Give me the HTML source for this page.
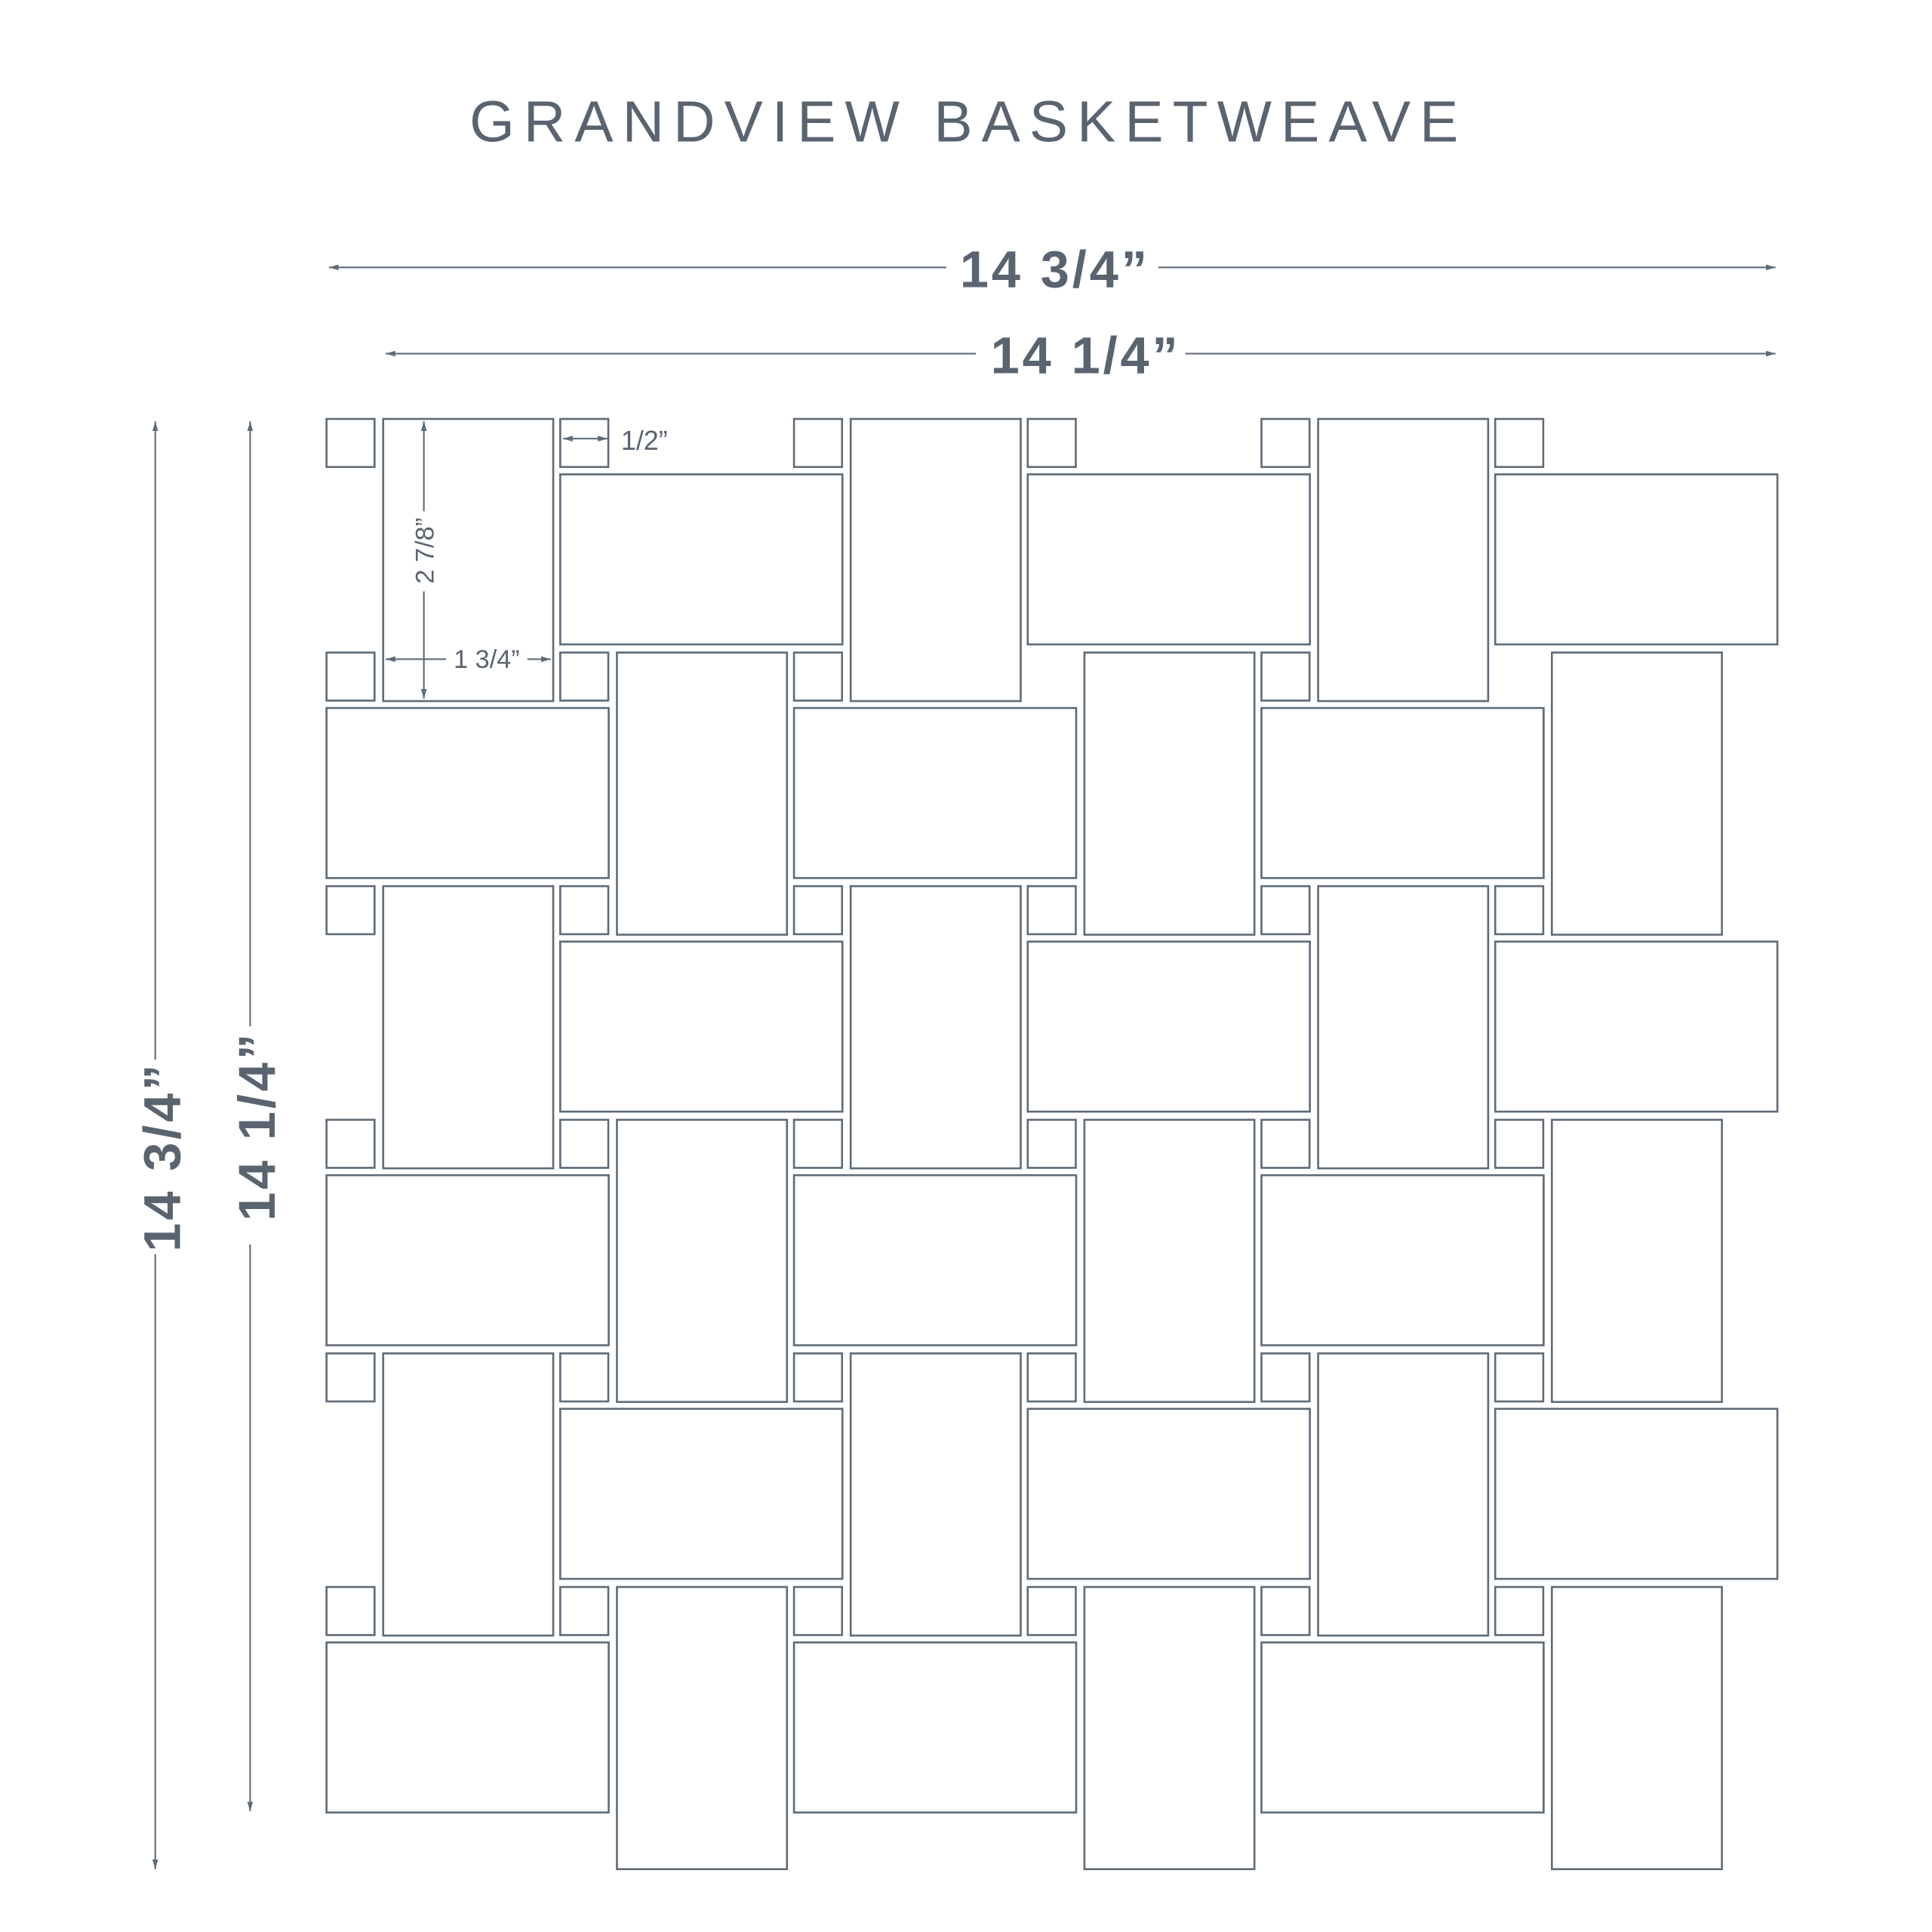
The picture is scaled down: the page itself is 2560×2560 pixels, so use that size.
<!DOCTYPE html>
<html><head><style>html,body{margin:0;padding:0;background:#fff}svg{display:block}</style></head>
<body>
<svg width="2560" height="2560" viewBox="0 0 1568 1568" xmlns="http://www.w3.org/2000/svg">
<defs>
<marker id="a" viewBox="0 0 10 10" refX="10" refY="5" markerWidth="6" markerHeight="6" orient="auto-start-reverse"><path d="M0,2 L10,5 L0,8 z" fill="#5f6b77"/></marker>
</defs>
<g font-family="Liberation Sans, sans-serif" fill="#5a6470">
<text x="786" y="115" font-size="47" text-anchor="middle" letter-spacing="7.4">GRANDVIEW BASKETWEAVE</text>
<text x="855" y="233" font-size="42" font-weight="bold" text-anchor="middle" textLength="152">14 3/4”</text>
<text x="880" y="303" font-size="42" font-weight="bold" text-anchor="middle" textLength="152">14 1/4”</text>
<text transform="translate(146,940) rotate(-90)" font-size="42" font-weight="bold" text-anchor="middle" textLength="152">14 3/4”</text>
<text transform="translate(223,915) rotate(-90)" font-size="42" font-weight="bold" text-anchor="middle" textLength="152">14 1/4”</text>
<text transform="translate(352,447) rotate(-90)" font-size="21" text-anchor="middle">2 7/8”</text>
<text x="395" y="542" font-size="21" text-anchor="middle">1 3/4”</text>
<text x="504" y="365" font-size="22">1/2”</text>
</g>
<g stroke="#5f6b77" stroke-width="1.3" fill="none">
<line x1="267" y1="217" x2="768" y2="217" marker-start="url(#a)"/>
<line x1="940" y1="217" x2="1441" y2="217" marker-end="url(#a)"/>
<line x1="313" y1="287" x2="792" y2="287" marker-start="url(#a)"/>
<line x1="962" y1="287" x2="1441" y2="287" marker-end="url(#a)"/>
<line x1="126" y1="342" x2="126" y2="860" marker-start="url(#a)"/>
<line x1="126" y1="1018" x2="126" y2="1517" marker-end="url(#a)"/>
<line x1="203" y1="342" x2="203" y2="833" marker-start="url(#a)"/>
<line x1="203" y1="1010" x2="203" y2="1470" marker-end="url(#a)"/>
<line x1="344" y1="342" x2="344" y2="415" marker-start="url(#a)"/>
<line x1="344" y1="480" x2="344" y2="567" marker-end="url(#a)"/>
<line x1="313" y1="535" x2="362" y2="535" marker-start="url(#a)"/>
<line x1="428" y1="535" x2="447" y2="535" marker-end="url(#a)"/>
<line x1="457" y1="356" x2="493" y2="356" marker-start="url(#a)" marker-end="url(#a)"/>
</g>
<g stroke="#5f6b77" stroke-width="1.6" fill="none">
<rect x="265" y="340" width="39" height="39"/><rect x="454.7" y="340" width="39" height="39"/><rect x="644.4" y="340" width="39" height="39"/><rect x="834.1" y="340" width="39" height="39"/><rect x="1023.8" y="340" width="39" height="39"/><rect x="1213.5" y="340" width="39" height="39"/>
<rect x="265" y="529.6" width="39" height="39"/><rect x="454.7" y="529.6" width="39" height="39"/><rect x="644.4" y="529.6" width="39" height="39"/><rect x="1023.8" y="529.6" width="39" height="39"/>
<rect x="265" y="719.2" width="39" height="39"/><rect x="454.7" y="719.2" width="39" height="39"/><rect x="644.4" y="719.2" width="39" height="39"/><rect x="834.1" y="719.2" width="39" height="39"/><rect x="1023.8" y="719.2" width="39" height="39"/><rect x="1213.5" y="719.2" width="39" height="39"/>
<rect x="265" y="908.8" width="39" height="39"/><rect x="454.7" y="908.8" width="39" height="39"/><rect x="644.4" y="908.8" width="39" height="39"/><rect x="834.1" y="908.8" width="39" height="39"/><rect x="1023.8" y="908.8" width="39" height="39"/><rect x="1213.5" y="908.8" width="39" height="39"/>
<rect x="265" y="1098.4" width="39" height="39"/><rect x="454.7" y="1098.4" width="39" height="39"/><rect x="644.4" y="1098.4" width="39" height="39"/><rect x="834.1" y="1098.4" width="39" height="39"/><rect x="1023.8" y="1098.4" width="39" height="39"/><rect x="1213.5" y="1098.4" width="39" height="39"/>
<rect x="265" y="1288" width="39" height="39"/><rect x="454.7" y="1288" width="39" height="39"/><rect x="644.4" y="1288" width="39" height="39"/><rect x="834.1" y="1288" width="39" height="39"/><rect x="1023.8" y="1288" width="39" height="39"/><rect x="1213.5" y="1288" width="39" height="39"/>
<rect x="311" y="340" width="138" height="229"/><rect x="690.4" y="340" width="138" height="229"/><rect x="1069.8" y="340" width="138" height="229"/>
<rect x="311" y="719.2" width="138" height="229"/><rect x="690.4" y="719.2" width="138" height="229"/><rect x="1069.8" y="719.2" width="138" height="229"/>
<rect x="311" y="1098.4" width="138" height="229"/><rect x="690.4" y="1098.4" width="138" height="229"/><rect x="1069.8" y="1098.4" width="138" height="229"/>
<rect x="500.7" y="529.6" width="138" height="229"/><rect x="880.1" y="529.6" width="138" height="229"/><rect x="1259.5" y="529.6" width="138" height="229"/>
<rect x="500.7" y="908.8" width="138" height="229"/><rect x="880.1" y="908.8" width="138" height="229"/><rect x="1259.5" y="908.8" width="138" height="229"/>
<rect x="500.7" y="1288" width="138" height="229"/><rect x="880.1" y="1288" width="138" height="229"/><rect x="1259.5" y="1288" width="138" height="229"/>
<rect x="454.7" y="385" width="229" height="138"/><rect x="834.1" y="385" width="229" height="138"/><rect x="1213.5" y="385" width="229" height="138"/>
<rect x="454.7" y="764.2" width="229" height="138"/><rect x="834.1" y="764.2" width="229" height="138"/><rect x="1213.5" y="764.2" width="229" height="138"/>
<rect x="454.7" y="1143.4" width="229" height="138"/><rect x="834.1" y="1143.4" width="229" height="138"/><rect x="1213.5" y="1143.4" width="229" height="138"/>
<rect x="265" y="574.6" width="229" height="138"/><rect x="644.4" y="574.6" width="229" height="138"/><rect x="1023.8" y="574.6" width="229" height="138"/>
<rect x="265" y="953.8" width="229" height="138"/><rect x="644.4" y="953.8" width="229" height="138"/><rect x="1023.8" y="953.8" width="229" height="138"/>
<rect x="265" y="1333" width="229" height="138"/><rect x="644.4" y="1333" width="229" height="138"/><rect x="1023.8" y="1333" width="229" height="138"/>
</g>
</svg>
</body></html>
